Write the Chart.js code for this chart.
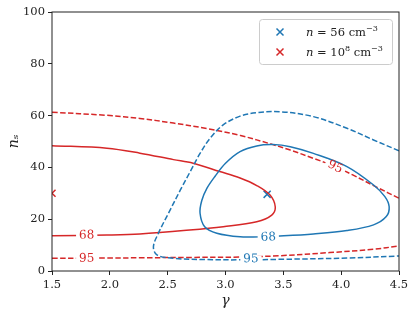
<!DOCTYPE html>
<html>
<head>
<meta charset="utf-8">
<script src="https://cdn.jsdelivr.net/npm/chart.js@4"></script>
<style>
  html, body { margin: 0; padding: 0; background: #fff; }
  #wrap { width: 415px; height: 315px; }
</style>
</head>
<body>
<div id="wrap"><canvas id="grafico" width="415" height="315"></canvas></div>
<script>
// ejes
const xTicks = [1.5, 2.0, 2.5, 3.0, 3.5, 4.0, 4.5];
const yTicks = [0, 20, 40, 60, 80, 100];

// contorno 68 rojo (n = 10^8)
const red68Gamma = [1.5, 1.975, 2.26, 2.55, 2.72, 2.95, 3.126, 3.27, 3.385, 3.43, 3.40, 3.27, 2.98, 2.69, 2.26, 1.975, 1.5];
const red68Ns    = [48.4, 47.4, 45.5, 43.0, 41.6, 38.4, 35.9, 33.0, 29.3, 24.8, 21.6, 19.0, 17.1, 15.8, 14.3, 13.9, 13.6];

// contorno 95 rojo, dos ramas
const red95UpGamma = [1.5, 1.975, 2.26, 2.55, 2.84, 3.13, 3.41, 3.56, 3.76, 3.95, 4.10, 4.31, 4.5];
const red95UpNs    = [61.3, 60.1, 58.9, 57.1, 55.0, 52.3, 48.8, 46.7, 43.5, 40.3, 37.1, 32.3, 28.1];
const red95LoGamma = [1.5, 1.975, 2.26, 2.7, 3.13, 3.47, 3.90, 4.28, 4.5];
const red95LoNs    = [4.9, 5.0, 5.1, 5.25, 5.4, 5.9, 7.1, 8.4, 9.65];

// contorno 68 azul (n = 56), cerrado
const blue68Gamma = [3.30, 3.47, 3.76, 4.05, 4.28, 4.39, 4.415, 4.378, 4.28, 4.05, 3.76, 3.56, 3.41, 3.27, 3.126, 3.00, 2.91, 2.84, 2.795, 2.78, 2.82, 2.925, 3.126, 3.30];
const blue68Ns    = [13.2, 13.5, 14.3, 15.6, 17.8, 21.0, 24.8, 28.7, 33.2, 40.3, 45.4, 48.0, 48.8, 48.3, 46.1, 41.6, 36.6, 32.0, 27.2, 22.3, 17.1, 14.6, 13.2, 13.2];

// contorno 95 azul
const blue95Gamma = [4.5, 4.28, 4.05, 3.76, 3.47, 3.27, 3.126, 2.98, 2.866, 2.78, 2.694, 2.61, 2.507, 2.42, 2.377, 2.407, 2.55, 2.84, 3.13, 3.47, 4.05, 4.5];
const blue95Ns    = [46.4, 50.6, 55.1, 59.6, 61.5, 61.1, 59.8, 56.4, 51.2, 45.4, 38.3, 31.3, 22.3, 14.6, 9.4, 6.2, 4.9, 4.4, 4.3, 4.5, 5.0, 5.8];

// mejores ajustes
const bestBlue = { gamma: 3.36, ns: 29.6 };
const bestRed = { gamma: 1.5, ns: 30.0 };

// etiquetas de contorno
const labelText  = ["68", "95", "68", "95", "95"];
const labelGamma = [1.80, 1.80, 3.37, 3.22, 3.95];
const labelNs    = [13.9, 5.0, 13.2, 4.8, 40.3];
const labelCurve = ["red68", "red95Lo", "blue68", "blue95", "red95Up"];

const AZUL = "#1f77b4";
const ROJO = "#d62728";
const FUENTE = '"DejaVu Serif", serif';

function puntos(gs, ns) {
  return gs.map((g, i) => ({ x: g, y: ns[i] }));
}

const curvas = {
  red68: puntos(red68Gamma, red68Ns),
  red95Up: puntos(red95UpGamma, red95UpNs),
  red95Lo: puntos(red95LoGamma, red95LoNs),
  blue68: puntos(blue68Gamma, blue68Ns),
  blue95: puntos(blue95Gamma, blue95Ns)
};

function linea(datos, color, dashed) {
  return {
    data: datos,
    showLine: true,
    borderColor: color,
    borderWidth: 1.5,
    borderDash: dashed ? [5.5, 2.4] : [],
    pointRadius: 0,
    tension: 0.35,
    fill: false
  };
}

// recorte exacto al área del gráfico (el marcador rojo queda cortado en el borde)
const recortePlugin = {
  id: "recorte",
  beforeDatasetDraw(chart) {
    const a = chart.chartArea;
    chart.ctx.save();
    chart.ctx.beginPath();
    chart.ctx.rect(a.left, a.top, a.right - a.left, a.bottom - a.top);
    chart.ctx.clip();
  },
  afterDatasetDraw(chart) {
    chart.ctx.restore();
  }
};

// etiquetas en línea, rotadas según la curva
const etiquetasPlugin = {
  id: "etiquetas",
  afterDatasetsDraw(chart) {
    const { ctx, scales: { x, y } } = chart;
    ctx.save();
    ctx.font = "12px " + FUENTE;
    ctx.textAlign = "center";
    ctx.textBaseline = "middle";
    labelText.forEach((t, i) => {
      const px = x.getPixelForValue(labelGamma[i]);
      const py = y.getPixelForValue(labelNs[i]);
      const pts = curvas[labelCurve[i]];
      // segmento más cercano para el ángulo
      let mejor = 0, dmin = Infinity;
      for (let k = 0; k < pts.length - 1; k++) {
        const mx = x.getPixelForValue((pts[k].x + pts[k + 1].x) / 2);
        const my = y.getPixelForValue((pts[k].y + pts[k + 1].y) / 2);
        const d = (mx - px) ** 2 + (my - py) ** 2;
        if (d < dmin) { dmin = d; mejor = k; }
      }
      const a = pts[mejor], b = pts[mejor + 1];
      let ang = Math.atan2(y.getPixelForValue(b.y) - y.getPixelForValue(a.y), x.getPixelForValue(b.x) - x.getPixelForValue(a.x));
      if (ang > Math.PI / 2) ang -= Math.PI;
      if (ang < -Math.PI / 2) ang += Math.PI;
      const color = labelCurve[i].startsWith("red") ? ROJO : AZUL;
      const w = ctx.measureText(t).width;
      ctx.save();
      ctx.translate(px, py);
      ctx.rotate(ang);
      ctx.fillStyle = "#fff";
      ctx.fillRect(-w / 2 - 3, -3, w + 6, 6);
      ctx.fillStyle = color;
      ctx.fillText(t, 0, 0.5);
      ctx.restore();
    });
    ctx.restore();
  }
};

// marco y leyenda
const marcoPlugin = {
  id: "marco",
  afterDraw(chart) {
    const { ctx, chartArea: a } = chart;
    ctx.save();
    ctx.strokeStyle = "#222";
    ctx.lineWidth = 1;
    ctx.strokeRect(a.left, a.top, a.right - a.left, a.bottom - a.top);

    // leyenda
    const bw = 133, bh = 45;
    const bx = a.right - 7 - bw, by = a.top + 7;
    ctx.fillStyle = "rgba(255,255,255,0.8)";
    ctx.strokeStyle = "#cccccc";
    ctx.beginPath();
    if (ctx.roundRect) ctx.roundRect(bx + 0.5, by + 0.5, bw, bh, 3);
    else ctx.rect(bx + 0.5, by + 0.5, bw, bh);
    ctx.fill();
    ctx.stroke();

    const filas = [
      { color: AZUL, runs: [{ t: "n", it: true }, { t: " = 56 cm" }, { t: "−3", sup: true }] },
      { color: ROJO, runs: [{ t: "n", it: true }, { t: " = 10" }, { t: "8", sup: true }, { t: " cm" }, { t: "−3", sup: true }] }
    ];
    filas.forEach((f, i) => {
      const cy = by + 13 + i * 20;
      const cx = bx + 21;
      ctx.strokeStyle = f.color;
      ctx.lineWidth = 1.5;
      ctx.beginPath();
      ctx.moveTo(cx - 3.5, cy - 3.5); ctx.lineTo(cx + 3.5, cy + 3.5);
      ctx.moveTo(cx - 3.5, cy + 3.5); ctx.lineTo(cx + 3.5, cy - 3.5);
      ctx.stroke();
      let tx = bx + 47;
      ctx.fillStyle = "#222";
      ctx.textBaseline = "alphabetic";
      ctx.textAlign = "left";
      f.runs.forEach(r => {
        ctx.font = (r.it ? "italic " : "") + (r.sup ? "8px " : "11.5px ") + FUENTE;
        ctx.fillText(r.t, tx, cy + 4 - (r.sup ? 5 : 0));
        tx += ctx.measureText(r.t).width;
      });
    });
    ctx.restore();
  }
};

const ctx = document.getElementById("grafico").getContext("2d");

new Chart(ctx, {
  type: "scatter",
  data: {
    datasets: [
      linea(curvas.blue95, AZUL, true),
      linea(curvas.blue68, AZUL, false),
      linea(curvas.red95Up, ROJO, true),
      linea(curvas.red95Lo, ROJO, true),
      linea(curvas.red68, ROJO, false),
      {
        data: [{ x: bestBlue.gamma, y: bestBlue.ns }],
        pointStyle: "crossRot", pointRadius: 5, borderWidth: 1.5,
        borderColor: AZUL, backgroundColor: AZUL
      },
      {
        data: [{ x: bestRed.gamma, y: bestRed.ns }],
        pointStyle: "crossRot", pointRadius: 5, borderWidth: 1.5,
        borderColor: ROJO, backgroundColor: ROJO
      }
    ]
  },
  options: {
    responsive: false,
    animation: false,
    devicePixelRatio: 1,
    layout: { padding: { top: 12, right: 16, left: 0, bottom: 0 } },
    plugins: { legend: { display: false }, tooltip: { enabled: false } },
    scales: {
      x: {
        type: "linear",
        min: 1.5, max: 4.5,
        afterBuildTicks: s => { s.ticks = xTicks.map(v => ({ value: v })); },
        afterFit: s => { s.height = 44; },
        ticks: { callback: v => v.toFixed(1), font: { family: FUENTE, size: 11.5 }, color: "#222", padding: 3, maxRotation: 0 },
        grid: { drawOnChartArea: false, tickLength: 4, color: "#222" },
        border: { display: false },
        title: { display: true, text: "γ", color: "#222", font: { family: FUENTE, size: 14, style: "italic" }, padding: { top: 0, bottom: 5 } }
      },
      y: {
        min: 0, max: 100,
        afterBuildTicks: s => { s.ticks = yTicks.map(v => ({ value: v })); },
        afterFit: s => { s.width = 52; },
        ticks: { font: { family: FUENTE, size: 11.5 }, color: "#222", padding: 3 },
        grid: { drawOnChartArea: false, tickLength: 4, color: "#222" },
        border: { display: false },
        title: { display: true, text: "nₛ", color: "#222", font: { family: FUENTE, size: 14, style: "italic" }, padding: { top: 6 } }
      }
    }
  },
  plugins: [recortePlugin, etiquetasPlugin, marcoPlugin]
});
</script>
</body>
</html>
